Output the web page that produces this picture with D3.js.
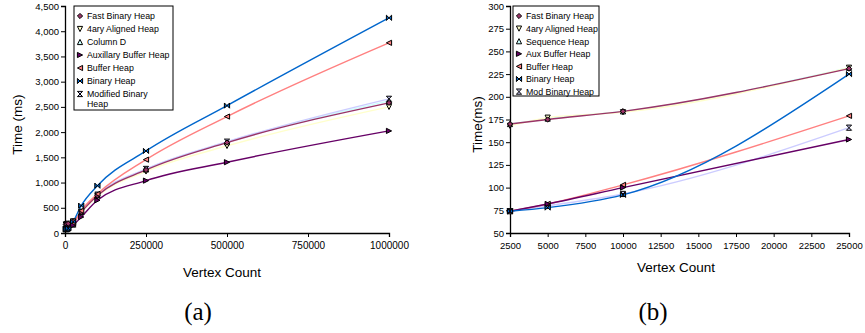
<!DOCTYPE html>
<html>
<head>
<meta charset="utf-8">
<script src="https://cdn.jsdelivr.net/npm/d3@7"></script>
<style>
  body { margin: 0; background: #fff; }
  svg { display: block; }
  svg text { font-family: "Liberation Sans", Arial, sans-serif; }
  svg text.caption { font-family: "Liberation Serif", "DejaVu Serif", serif; }
</style>
</head>
<body>
<svg id="chart" width="865" height="333"></svg>
<script>
// ---- data, chart (a) ----
const vertexA = [2500, 5000, 10000, 25000, 50000, 100000, 250000, 500000, 1000000];
const fastBinaryA = [170, 175, 184, 231, 417, 744, 1250, 1792, 2580];
const aryAlignedA = [168, 177, 183, 231, 410, 730, 1220, 1726, 2500];
const columnDA = [170, 176, 184, 232, 420, 750, 1260, 1800, 2620];
const auxBufferA = [74, 82, 100, 153, 317, 649, 1038, 1403, 2024];
const bufferA = [74, 82, 103, 179, 440, 774, 1454, 2308, 3770];
const binaryA = [74, 78, 92, 225, 542, 938, 1627, 2526, 4266];
const modBinaryA = [74, 80, 93, 167, 420, 760, 1270, 1810, 2660];
const namesA = ['Fast Binary Heap', '4ary Aligned Heap', 'Column D', 'Auxillary Buffer Heap',
  'Buffer Heap', 'Binary Heap', 'Modified Binary\nHeap'];
const ticksXA = [0, 250000, 500000, 750000, 1000000];
const ticksYA = [0, 500, 1000, 1500, 2000, 2500, 3000, 3500, 4000, 4500];

// ---- data, chart (b) ----
const vertexB = [2500, 5000, 10000, 25000];
const fastBinaryB = [170, 175, 184, 231];
const aryAlignedB = [168, 177, 183, 232];
const sequenceB = [170, 176, 184, 232];
const auxBufferB = [74, 82, 100, 153];
const bufferB = [74, 82, 103, 179];
const binaryB = [74, 78, 92, 225];
const modBinaryB = [74, 80, 93, 166];
const namesB = ['Fast Binary Heap', '4ary Aligned Heap', 'Sequence Heap', 'Aux Buffer Heap',
  'Buffer Heap', 'Binary Heap', 'Mod Binary Heap'];
const ticksXB = [2500, 5000, 7500, 10000, 12500, 15000, 17500, 20000, 22500, 25000];
const ticksYB = [50, 75, 100, 125, 150, 175, 200, 225, 250, 275, 300];

const lineColors = ['#993366', '#ffffcc', '#ccffff', '#660066', '#ff8080', '#0066cc', '#ccccff'];
const markerFill = ['#993366', '#ffffcc', '#ccffff', '#660066', '#ff8080', '#0066cc', '#ccccff'];

const r = 2.6;
const shapes = [
  `M0,${-r}L${r},0L0,${r}L${-r},0Z`,
  `M${-r},${-r}L${r},${-r}L0,${r}Z`,
  `M${-r},${r}L${r},${r}L0,${-r}Z`,
  `M${-r},${-r}L${r},0L${-r},${r}Z`,
  `M${r},${-r}L${-r},0L${r},${r}Z`,
  `M${-r},${-r}L${r},${r}L${r},${-r}L${-r},${r}Z`,
  `M${-r},${-r}L${r},${-r}L${-r},${r}L${r},${r}Z`
];

const svg = d3.select('#chart');

function drawPanel(cfg) {
  const x = d3.scaleLinear().domain(cfg.xDomain).range([cfg.left, cfg.right]);
  const y = d3.scaleLinear().domain(cfg.yDomain).range([cfg.bottom, cfg.top]);
  const g = svg.append('g');

  // axes
  const ax = g.append('g')
      .attr('transform', `translate(0,${cfg.bottom})`)
      .call(d3.axisBottom(x).tickValues(cfg.ticksX).tickSizeOuter(0).tickSize(4).tickPadding(5)
        .tickFormat(d3.format('d')));
  ax.attr('font-family', null);
  ax.selectAll('text').attr('font-size', cfg.xTickFont).attr('fill', '#000');
  const ay = g.append('g')
      .attr('transform', `translate(${cfg.left},0)`)
      .call(d3.axisLeft(y).tickValues(cfg.ticksY).tickSizeOuter(0).tickSize(4).tickPadding(2)
        .tickFormat(cfg.yFormat));
  ay.attr('font-family', null);
  ay.selectAll('text').attr('font-size', cfg.yTickFont).attr('fill', '#000');
  g.selectAll('.domain').attr('stroke', '#000').attr('stroke-width', 1.3);
  g.selectAll('.tick line').attr('stroke', '#000');

  // titles
  g.append('text')
      .attr('x', cfg.xTitleX).attr('y', cfg.xTitleY)
      .attr('text-anchor', 'middle').attr('font-size', cfg.titleFont)
      .text('Vertex Count');
  g.append('text')
      .attr('transform', `translate(${cfg.yTitleX},${(cfg.top + cfg.bottom) / 2 + 5}) rotate(-90)`)
      .attr('text-anchor', 'middle').attr('font-size', cfg.titleFont)
      .text(cfg.yTitle);
  g.append('text')
      .attr('class', 'caption')
      .attr('x', cfg.captionX).attr('y', 320)
      .attr('text-anchor', 'middle')
      .attr('font-size', 25)
      .text(cfg.caption);

  // lines
  const line = d3.line().x(d => x(d[0])).y(d => y(d[1])).curve(d3.curveMonotoneX);
  const order = [2, 6, 1, 0, 4, 3, 5];
  order.forEach(i => {
    const pts = cfg.xs.map((v, k) => [v, cfg.series[i][k]]);
    g.append('path')
        .attr('d', line(pts))
        .attr('fill', 'none')
        .attr('stroke', lineColors[i])
        .attr('stroke-width', 1.4);
  });
  order.forEach(i => {
    g.append('g').selectAll('path')
      .data(cfg.xs.map((v, k) => [v, cfg.series[i][k]]))
      .join('path')
        .attr('transform', d => `translate(${x(d[0])},${y(d[1])})`)
        .attr('d', shapes[i])
        .attr('fill', markerFill[i])
        .attr('stroke', '#000')
        .attr('stroke-width', 1);
  });

  // legend
  const lg = g.append('g');
  lg.append('rect')
      .attr('x', cfg.legend.x).attr('y', cfg.legend.y)
      .attr('width', cfg.legend.w).attr('height', cfg.legend.h)
      .attr('fill', '#fff').attr('stroke', '#000').attr('stroke-width', 1);
  cfg.names.forEach((name, i) => {
    const yy = cfg.legend.y + 10 + i * cfg.legend.step;
    lg.append('path')
        .attr('transform', `translate(${cfg.legend.x + 6},${yy})`)
        .attr('d', shapes[i])
        .attr('fill', markerFill[i])
        .attr('stroke', '#000');
    const t = lg.append('text')
        .attr('x', cfg.legend.x + 13).attr('y', yy + 3.3)
        .attr('font-size', cfg.legendFont);
    name.split('\n').forEach((part, j) => {
      t.append('tspan').attr('x', cfg.legend.x + 13).attr('dy', j ? 10 : 0).text(part);
    });
  });
}

drawPanel({
  left: 65, right: 389, top: 6, bottom: 233,
  xDomain: [0, 1000000], yDomain: [0, 4500],
  ticksX: ticksXA, ticksY: ticksYA, yFormat: d3.format(','),
  xs: vertexA,
  series: [fastBinaryA, aryAlignedA, columnDA, auxBufferA, bufferA, binaryA, modBinaryA],
  names: namesA,
  xTickFont: 10, yTickFont: 9.5, titleFont: 13.5, legendFont: 8.8,
  xTitleX: 222, xTitleY: 277,
  yTitle: 'Time (ms)', yTitleX: 22,
  caption: '(a)', captionX: 198,
  legend: { x: 74, y: 6, w: 99, h: 104, step: 13 }
});

drawPanel({
  left: 510, right: 849, top: 6, bottom: 233,
  xDomain: [2500, 25000], yDomain: [50, 300],
  ticksX: ticksXB, ticksY: ticksYB, yFormat: d3.format('d'),
  xs: vertexB,
  series: [fastBinaryB, aryAlignedB, sequenceB, auxBufferB, bufferB, binaryB, modBinaryB],
  names: namesB,
  xTickFont: 9.5, yTickFont: 9.5, titleFont: 13.5, legendFont: 8.8,
  xTitleX: 676, xTitleY: 272,
  yTitle: 'Time(ms)', yTitleX: 482,
  caption: '(b)', captionX: 653,
  legend: { x: 513, y: 6, w: 86, h: 90, step: 12.6 }
});
</script>
</body>
</html>
